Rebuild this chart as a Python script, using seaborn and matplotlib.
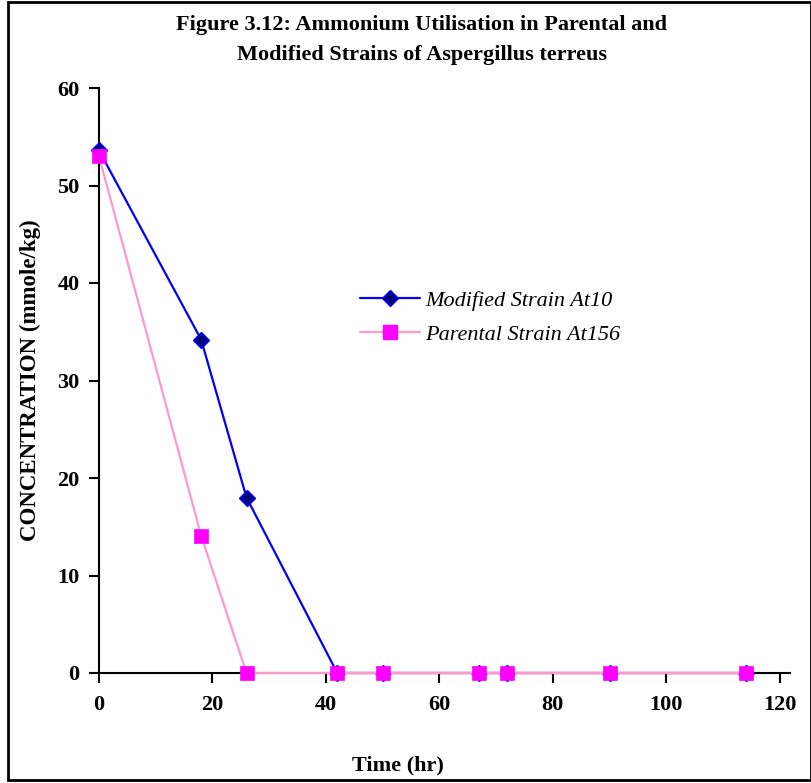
import matplotlib
matplotlib.use("Agg")
import matplotlib.pyplot as plt
import seaborn as sns
import pandas as pd
from matplotlib.lines import Line2D

sns.set_style("white")
plt.rcParams['font.family'] = ['Liberation Serif', 'DejaVu Serif']
plt.rcParams['text.color'] = 'black'
plt.rcParams['axes.labelcolor'] = 'black'
plt.rcParams['xtick.color'] = 'black'
plt.rcParams['ytick.color'] = 'black'

time_hr = [0, 18, 26, 42, 50, 67, 72, 90, 114]
modified_at10 = [53.6, 34.2, 18.0, 0, 0, 0, 0, 0, 0]
parental_at156 = [53.0, 14.1, 0, 0, 0, 0, 0, 0, 0]
series_names = ["Modified Strain At10", "Parental Strain At156"]
x_ticks = [0, 20, 40, 60, 80, 100, 120]
y_ticks = [0, 10, 20, 30, 40, 50, 60]

df_mod = pd.DataFrame({"t": time_hr, "c": modified_at10})
df_par = pd.DataFrame({"t": time_hr, "c": parental_at156})

W, H = 812, 783
fig = plt.figure(figsize=(W / 100, H / 100), dpi=100)
ax = fig.add_axes([99 / W, 1 - 673 / H, (790 - 99) / W, (673 - 88) / H])

sns.lineplot(data=df_mod, x="t", y="c", ax=ax, color="#0000FF", lw=1.6,
             marker="D", markersize=8, markerfacecolor="#000080",
             markeredgecolor="#0000FF", markeredgewidth=1.0, zorder=3)
sns.lineplot(data=df_par, x="t", y="c", ax=ax, color="#FF99CC", lw=1.6,
             marker="s", markersize=9.5, markerfacecolor="#FF00FF",
             markeredgecolor="#FF00FF", markeredgewidth=0.5, zorder=4, alpha=1)
for ln in ax.lines:
    ln.set_clip_on(False)

ax.set_xlim(0, 121.8)
ax.set_ylim(0, 60)
ax.set_xticks(x_ticks)
ax.set_yticks(y_ticks)
ax.set_xticklabels([str(v) for v in x_ticks], fontsize=16, fontweight="bold")
ax.set_yticklabels([str(v) for v in y_ticks], fontsize=16, fontweight="bold")
ax.tick_params(axis="x", direction="out", length=7, width=1.5, pad=9, bottom=True)
ax.tick_params(axis="y", direction="out", length=7, width=1.5, pad=7, left=True)
for s in ["top", "right"]:
    ax.spines[s].set_visible(False)
for s in ["left", "bottom"]:
    ax.spines[s].set_color("black")
    ax.spines[s].set_linewidth(1.5)
ax.set_xlabel("")
ax.set_ylabel("")

handles = [
    Line2D([0], [0], color="#0000FF", lw=1.6, marker="D", markersize=8,
           markerfacecolor="#000080", markeredgecolor="#0000FF"),
    Line2D([0], [0], color="#FF99CC", lw=1.6, marker="s", markersize=9.5,
           markerfacecolor="#FF00FF", markeredgecolor="#FF00FF"),
]
leg = ax.legend(handles, series_names, loc="upper left",
                bbox_to_anchor=((340 - 99) / (790 - 99), (673 - 270) / (673 - 88)),
                frameon=False, prop={"size": 16, "style": "italic"},
                handlelength=2.7, handletextpad=0.25, labelspacing=0.63)

fig.text(422 / W, 1 - 25 / H, "Figure 3.12: Ammonium Utilisation in Parental and",
         ha="center", va="center", fontsize=16, fontweight="bold")
fig.text(422 / W, 1 - 55 / H, "Modified Strains of Aspergillus terreus",
         ha="center", va="center", fontsize=16, fontweight="bold")
fig.text(398 / W, 1 - 765 / H, "Time (hr)", ha="center", va="center",
         fontsize=16, fontweight="bold")
fig.text(30 / W, 1 - 380 / H, "CONCENTRATION (mmole/kg)", ha="center", va="center",
         rotation=90, fontsize=16.5, fontweight="bold")

border = plt.Rectangle((8 / W, 1 - 780 / H), (811 - 8) / W, (780 - 2) / H,
                       transform=fig.transFigure, fill=False, edgecolor="black",
                       lw=2, clip_on=False)
fig.patches.append(border)

fig.savefig("out.png", dpi=100)
